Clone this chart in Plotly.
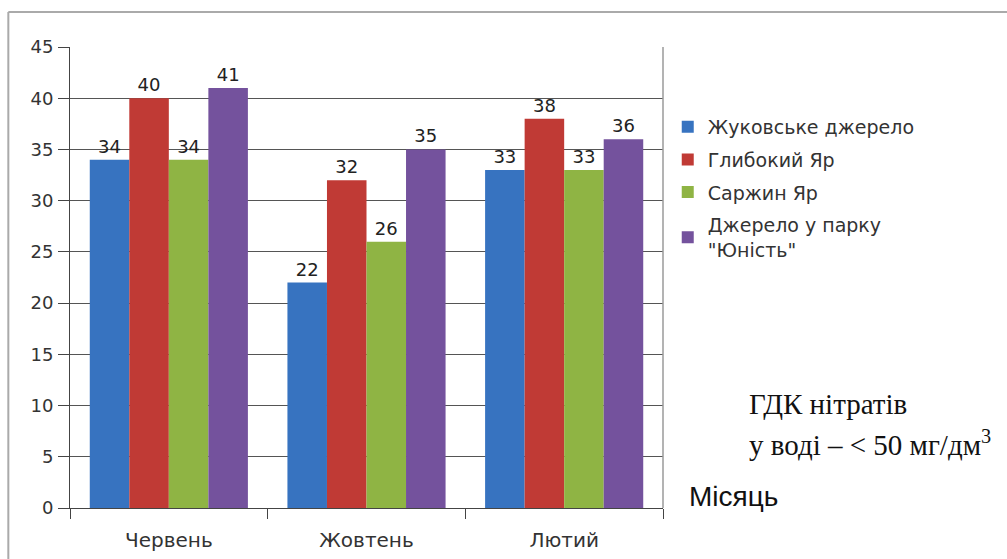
import plotly.graph_objects as go

# Nitrate content by spring and month
months = ["Червень", "Жовтень", "Лютий"]
sources = ["Жуковське джерело", "Глибокий Яр", "Саржин Яр", "Джерело у парку<br>\"Юність\""]
zhukovske = [34, 22, 33]
hlybokyi_yar = [40, 32, 38]
sarzhyn_yar = [34, 26, 33]
park_yunist = [41, 35, 36]
y_ticks = [0, 5, 10, 15, 20, 25, 30, 35, 40, 45]

series = [zhukovske, hlybokyi_yar, sarzhyn_yar, park_yunist]
colors = ["#3773C0", "#C03A35", "#8FB444", "#74529D"]

fig = go.Figure()
for i, (name, vals, col) in enumerate(zip(sources, series, colors)):
    fig.add_trace(go.Bar(
        x=months, y=vals, name=name, legendgroup=f"g{i}",
        marker=dict(color=col, line=dict(width=0)),
        text=[str(v) for v in vals], textposition="outside",
        textfont=dict(family="DejaVu Sans", size=18, color="#222222"),
        cliponaxis=False,
    ))

fig.update_layout(
    width=1007, height=559,
    margin=dict(l=70, r=344, t=47, b=51),
    paper_bgcolor="white", plot_bgcolor="white",
    barmode="group", bargap=0.2, bargroupgap=0,
    font=dict(family="DejaVu Sans", size=18, color="#333333"),
    legend=dict(
        x=1.008, y=0.868, xanchor="left", yanchor="top",
        font=dict(family="DejaVu Sans", size=19, color="#333333"),
        itemwidth=30, tracegroupgap=5, bgcolor="rgba(0,0,0,0)",
    ),
    showlegend=True,
)

fig.update_yaxes(
    range=[0, 45], tickvals=y_ticks, ticks="outside", ticklen=11,
    tickcolor="#444444", showline=True, linecolor="#444444", linewidth=1,
    showgrid=True, gridcolor="#555555", gridwidth=1, zeroline=False,
    tickfont=dict(size=18, color="#333333"), ticklabelstandoff=1,
    automargin=False,
)
fig.update_xaxes(
    showline=True, linecolor="#444444", linewidth=1,
    ticks="outside", tickson="boundaries", ticklen=10, tickcolor="#444444",
    tickfont=dict(size=20, color="#333333"), ticklabelstandoff=14,
    automargin=False,
)

# right border of the plot area
fig.add_shape(type="line", xref="paper", yref="paper", x0=1, x1=1, y0=0, y1=1,
              line=dict(color="#9a9a9a", width=1.5))
# chart frame (top and left edges)
fig.add_shape(type="line", xref="paper", yref="paper", x0=-0.104, x1=1.6, y0=1.076, y1=1.076,
              line=dict(color="#aaaaaa", width=2))
fig.add_shape(type="line", xref="paper", yref="paper", x0=-0.104, x1=-0.104, y0=-0.12, y1=1.076,
              line=dict(color="#aaaaaa", width=2))

fig.add_annotation(xref="paper", yref="paper", x=1.142, y=0.225, xanchor="left", yanchor="middle",
                   text="ГДК нітратів", showarrow=False,
                   font=dict(family="Liberation Serif", size=29, color="#111111"))
fig.add_annotation(xref="paper", yref="paper", x=1.142, y=0.142, xanchor="left", yanchor="middle",
                   text="у воді – &lt; 50 мг/дм<sup>3</sup>", showarrow=False,
                   font=dict(family="Liberation Serif", size=29, color="#111111"))
fig.add_annotation(xref="paper", yref="paper", x=1.0405, y=0.026, xanchor="left", yanchor="middle",
                   text="Місяць", showarrow=False,
                   font=dict(family="Liberation Sans", size=28, color="#111111"))

fig.write_html("out.html")
